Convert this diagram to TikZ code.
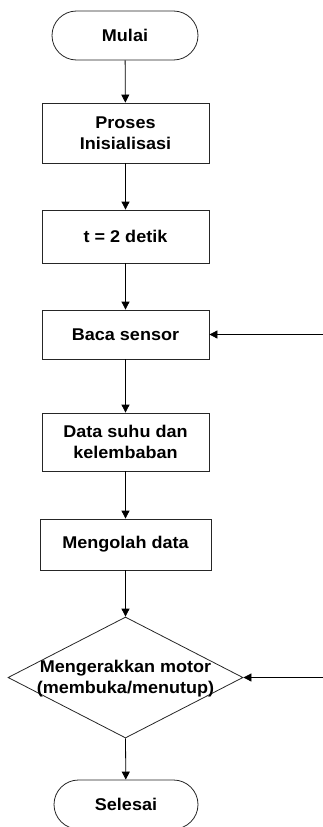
\documentclass[tikz,border=0pt]{standalone}
\usepackage{fontspec}
\setmainfont{Liberation Sans}[FakeStretch=1.06]
\usetikzlibrary{arrows.meta,shapes.geometric}
\begin{document}
\begin{tikzpicture}[x=1pt,y=-1pt,
  txt/.style={font=\fontsize{17}{21}\selectfont\bfseries, align=center, inner sep=0pt},
  term/.style={txt, draw=black!85, line width=0.8pt, rounded corners=24.5pt, minimum width=146pt, minimum height=49pt},
  proc/.style={txt, draw=black!85, line width=0.8pt, minimum width=167pt},
  dec/.style={draw=black!85, line width=0.8pt, diamond, inner sep=0pt, minimum width=235pt, minimum height=121pt},
  arr/.style={draw=black, line width=0.8pt, -{Triangle[length=8pt,width=8pt]}}
]
\useasboundingbox (0,0) rectangle (323,827);
\node[term] (start) at (125,35.5) {Mulai};
\node[proc, minimum height=60pt] (p1) at (125.5,133) {Proses\\Inisialisasi};
\node[proc, minimum height=53pt] (p2) at (125.5,236.5) {t = 2 detik};
\node[proc, minimum height=49pt] (p3) at (125.5,334.5) {Baca sensor};
\node[proc, minimum height=58pt] (p4) at (125.5,442) {Data suhu dan\\kelembaban};
\node[proc, minimum width=171pt, minimum height=51pt] (p5) at (125.5,544.5) {Mengolah data};
\node[dec] (d) at (125.5,677.5) {};
\node[txt] (dt) at (125.5,679) {Mengerakkan motor\\(membuka/menutup)};
\node[term, minimum width=144pt] (end) at (126,804.5) {Selesai};
\coordinate (in1) at (323,334.5);
\coordinate (in2) at (323,677.5);
\draw[arr] (start) -- (p1);
\draw[arr] (p1) -- (p2);
\draw[arr] (p2) -- (p3);
\draw[arr] (p3) -- (p4);
\draw[arr] (p4) -- (p5);
\draw[arr] (p5) -- (d.north);
\draw[arr] (d.south) -- (end);
\draw[arr] (in1) -- (p3.east);
\draw[arr] (in2) -- (d.east);
\end{tikzpicture}
\end{document}
